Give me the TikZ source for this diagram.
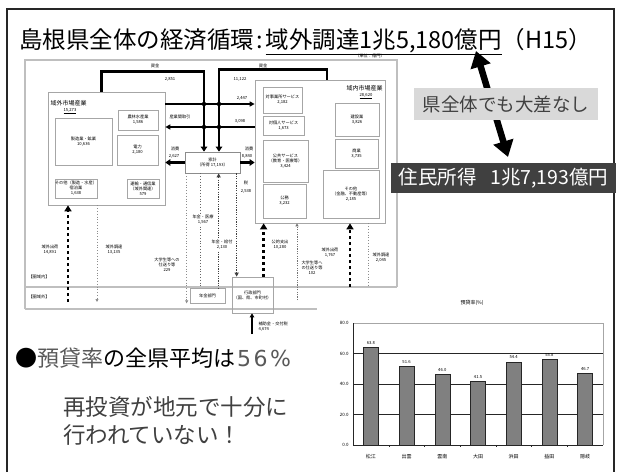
\documentclass[tikz,border=0pt]{standalone}
\usepackage{fontspec}
\setmainfont{Noto Sans CJK JP}
\newfontfamily\djv{DejaVu Sans}
\usetikzlibrary{arrows.meta}
\begin{document}
\begin{tikzpicture}[x=1pt,y=-1pt,
  tiny/.style={font=\fontsize{4.2}{5}\selectfont, align=center, inner sep=0.3pt},
  lbl/.style={font=\fontsize{6}{7}\selectfont, inner sep=0.3pt},
  ibox/.style={draw=black!35, line width=0.7pt, font=\fontsize{4.2}{5}\selectfont, align=center, inner sep=0pt},
  framegray/.style={draw=black!25, line width=1.1pt},
  fund/.style={line width=2.4pt, -{Triangle[length=5pt,width=6.5pt]}},
  flowln/.style={line width=1.4pt},
  bigdot/.style={line width=2.6pt, dash pattern=on 2.6pt off 3.4pt},
  ltdot/.style={black!45, line width=0.7pt, dash pattern=on 1pt off 1.8pt},
  mddash/.style={black!75, line width=1.1pt, dash pattern=on 1.3pt off 1.1pt},
  tri/.style={-{Triangle[length=6pt,width=7pt]}},
  smalltip/.style={-{Triangle[length=3pt,width=3pt]}},
  whitebg/.style={fill=white}
]
\useasboundingbox (0,0) rectangle (622,472);
\fill[white] (0,0) rectangle (622,472);
% outer slide frame
\draw[line width=1.5pt, black!85] (7,472) -- (7,9) -- (614,9) -- (614,472);

% title
\node[anchor=base west, inner sep=0, font=\fontsize{23.5}{28}\selectfont] (title) at (19,48)
  {島根県全体の経済循環\hspace{2pt}:\hspace{3pt}\underline{域外調達1兆5,180億円}（H15）};

% ---------- embedded diagram ----------
\draw[framegray] (25,287) -- (25,60) -- (397,60) -- (397,287);
\draw[framegray] (25,309) -- (25,287) -- (397,287);
\draw[framegray] (25,309) -- (317,309);
\node[tiny] (unit) at (370,56) {（単位：億円）};

% boxes
\node[ibox, minimum width=117, minimum height=113] (gai) at (106.5,148.5) {};
\node[lbl, anchor=west] (gailbl) at (50,103) {域外市場産業};
\node[tiny] (gainum) at (70,111) {\underline{15,273}};
\node[ibox, minimum width=57, minimum height=47] (seizo) at (83.5,141.5) {製造業・鉱業\\10,636};
\node[ibox, minimum width=40, minimum height=20] (nourin) at (138,120) {農林水産業\\1,586};
\node[ibox, minimum width=41, minimum height=30] (denryoku) at (137.5,150) {電力\\2,180};
\node[ibox, minimum width=42, minimum height=19] (sonota1) at (76,188.5) {その他（製造・水産）\\宿泊業\\1,638};
\node[ibox, minimum width=32, minimum height=19] (sonota2) at (143,188.5) {運輸・通信業\\（域外関連）\\579};

\node[ibox, minimum width=130, minimum height=143] (nai) at (320,151.5) {};
\node[lbl, anchor=east] (nailbl) at (383,88) {域内市場産業};
\node[tiny] (nainum) at (366,96) {\underline{28,620}};
\node[ibox, minimum width=39, minimum height=26] (taijigyo) at (282.5,100) {対事業所サービス\\2,182};
\node[ibox, minimum width=41, minimum height=19] (takojin) at (283.5,125.5) {対個人サービス\\1,673};
\node[ibox, minimum width=45, minimum height=42] (kokyo) at (285.5,161) {公共サービス\\（教育・医療等）\\3,424};
\node[ibox, minimum width=43, minimum height=34] (komu) at (284.5,201) {公務\\3,232};
\node[ibox, minimum width=44, minimum height=33] (kensetsu) at (357,119.5) {建設業\\3,826};
\node[ibox, minimum width=43, minimum height=29] (shogyo) at (356.5,153.5) {商業\\3,735};
\node[ibox, minimum width=56, minimum height=48] (sonota3) at (351,194) {その他\\（金融、不動産等）\\2,185};

\node[ibox, draw=black!45, minimum width=55, minimum height=21] (kakei) at (212.5,162.5) {家計\\（所得\ 17,193）};
\node[ibox, minimum width=35, minimum height=15] (nenkin) at (207.5,295.5) {年金部門};
\node[ibox, minimum width=41, minimum height=36] (gyosei) at (252.5,295) {行政部門\\（国、県、市町村）};

% fund lines
\draw[fund] ([xshift=54pt]gai.north west) -- ++(0,-20) -| ([xshift=-8.5pt]kakei.north);
\draw[fund] ([xshift=7pt]nai.north) -- ++(0,-10) -| ([xshift=6.5pt]kakei.north);
\draw[flowln, -{Triangle[length=5pt,width=5pt]}] (gai.east |- 0,104) -- (nai.west |- 0,104);
\draw[flowln, -{Triangle[length=5pt,width=5pt]}] (nai.west |- 0,127) -- (gai.east |- 0,127);
\foreach \px/\py in {204/104,219/104,204/127,219/127} \fill (\px,\py) circle (2.2);
\draw[line width=2.6pt, -{Triangle[length=5pt,width=6.5pt]}] (kakei.west) -- (gai.east |- kakei.west);
\draw[line width=2.6pt, -{Triangle[length=5pt,width=6.5pt]}] (kakei.east) -- (nai.west |- kakei.east);

\node[tiny] (lfund1) at (155,66) {資金};
\node[tiny] (lfund2) at (263,66) {資金};
\node[tiny] (l2851) at (170,79) {2,851};
\node[tiny] (l11122) at (240,79) {11,122};
\node[tiny] (l2447) at (242,98) {2,447};
\node[tiny] (l3098) at (240,121) {3,098};
\node[tiny] (lsangyo) at (180,117) {産業間取引};
\node[tiny] (lshohi1) at (175,149) {消費};
\node[tiny] (l2627) at (174,156) {2,627};
\node[tiny] (lshohi2) at (249,149) {消費};
\node[tiny] (l8840) at (247,156) {8,840};

% verticals below household
\draw[ltdot, smalltip] ([xshift=2pt]kakei.south west) -- ++(0,130);
\draw[ltdot, black!60] ([xshift=16pt]kakei.south west) -- ([xshift=16pt]kakei.south west |- nenkin.north);
\draw[mddash, {Triangle[length=4pt,width=4pt]}-] ([xshift=34pt]kakei.south west) -- ([xshift=34pt]kakei.south west |- nenkin.north);
\draw[mddash, -{Triangle[length=4pt,width=4pt]}] ([xshift=52pt]kakei.south west) -- ([xshift=52pt]kakei.south west |- gyosei.north);
\draw[bigdot, tri] ([xshift=32pt]gyosei.north west) -- ([xshift=32pt]gyosei.north west |- nai.south);
\coordinate (c102) at (297,300);
\draw[mddash, black!55, line width=0.8pt, smalltip] (c102) -- (c102 |- nai.south);
\coordinate (cship2) at (350,287);
\draw[bigdot, tri] (cship2) -- (cship2 |- nai.south);
\coordinate (cproc2) at (368,285);
\draw[ltdot] (cproc2 |- nai.south) -- (cproc2);
\coordinate (cship1) at (68,302);
\draw[bigdot, tri] (cship1) -- (cship1 |- gai.south);
\coordinate (cproc1) at (97,302);
\draw[ltdot, smalltip] (cproc1 |- gai.south) -- (cproc1);
\coordinate (csub) at (252,334);
\draw[line width=1.3pt, -{Triangle[length=4pt,width=4.5pt]}] (csub) -- (csub |- gyosei.south);

\node[tiny] (lzei) at (246,183) {税};
\node[tiny] (l2538) at (246,191) {2,538};
\node[tiny, whitebg] (liryo) at (203,220) {年金・医療\\1,567};
\node[tiny, whitebg] (lkyufu) at (222,245) {年金・給付\\2,130};
\node[tiny] (l229) at (167,265) {大学生等への\\仕送り等\\229};
\node[tiny] (lkoteki) at (280,245) {公的支出\\10,280};
\node[tiny] (l102) at (312,268) {大学生等へ\\の仕送り等\\102};
\node[tiny] (lship2) at (330,253) {域外出荷\\1,767};
\node[tiny] (lproc2) at (381,258) {域外調達\\2,045};
\node[tiny] (lship1) at (50,250) {域外出荷\\14,891};
\node[tiny] (lproc1) at (114,250) {域外調達\\13,135};
\node[tiny, anchor=west] (lin) at (28,277) {【圏域内】};
\node[tiny, anchor=west] (lout) at (28,297) {【圏域外】};
\node[tiny, anchor=west, align=left] (lsub) at (258,327) {補助金・交付税\\4,674};

% ---------- big arrow and call-outs ----------
\coordinate (atop) at (476,51);
\coordinate (abot) at (508,157);
\draw[line width=6.5pt, {Triangle[length=16pt,width=20pt]}-{Triangle[length=16pt,width=20pt]}] (atop) -- (abot);
\node[fill=black!15, text=black!75, font=\fontsize{18.5}{22}\selectfont, minimum width=184, minimum height=32, inner sep=0] (same) at (506,104) {県全体でも大差なし};
\node[fill=black!75, text=white, font=\fontsize{19.5}{22}\selectfont, minimum width=225, minimum height=30, inner sep=0] (income) at (503.5,178) {住民所得\hspace{0.7em}1兆7,193億円};

% ---------- bottom text ----------
\node[anchor=base west, inner sep=0, font=\fontsize{22}{26}\selectfont] (avg) at (15,366)
  {●\textcolor{black!65}{預貸率}の全県平均は\textcolor{black!65}{\djv\hspace{2pt}5\hspace{2.5pt}6\hspace{2.5pt}\%}};
\node[anchor=base west, inner sep=0, text=black!75, font=\fontsize{22.5}{26}\selectfont] (reinv1) at (63,415) {再投資が地元で十分に};
\node[anchor=base west, inner sep=0, text=black!75, font=\fontsize{22.5}{26}\selectfont] (reinv2) at (63,443) {行われていない！};

% ---------- bar chart ----------
\node[tiny, font=\fontsize{5}{6}\selectfont] (ctitle) at (472,303) {預貸率(\%)};
\draw[black!35, line width=0.6pt] (353,323) -- (603,323) -- (603,445);
\foreach \yv in {353.5,384,414.5} \draw[black!85, line width=0.7pt] (353,\yv) -- (603,\yv);
\draw[black!85, line width=0.7pt] (353,323) -- (353,445) -- (603,445);
\foreach \v/\yv [count=\k] in {80.0/323,60.0/353.5,40.0/384,20.0/414.5,0.0/445}
  \node[tiny, font=\fontsize{4.5}{5}\selectfont, anchor=east] (ylab\k) at (349,\yv) {\v};
\foreach \k in {1,...,6} \draw[black!85] ({353+35.714*\k},445) -- ++(0,2);
\foreach \v/\n [count=\i] in {63.8/松江,51.6/出雲,46.0/雲南,41.5/大田,54.4/浜田,55.8/益田,46.7/隠岐}{
  \pgfmathsetmacro{\xc}{353+35.714*(\i-0.5)}
  \pgfmathsetmacro{\hh}{\v*1.525}
  \node[draw=black!85, fill=black!50, line width=0.5pt, minimum width=15, minimum height=\hh, inner sep=0, anchor=south] (bar\i) at (\xc,445) {};
  \node[tiny, anchor=south] (val\i) at ([yshift=2pt]bar\i.north) {\v};
  \node[tiny, font=\fontsize{5}{6}\selectfont] (cat\i) at (\xc,457) {\n};
}
\end{tikzpicture}
\end{document}
